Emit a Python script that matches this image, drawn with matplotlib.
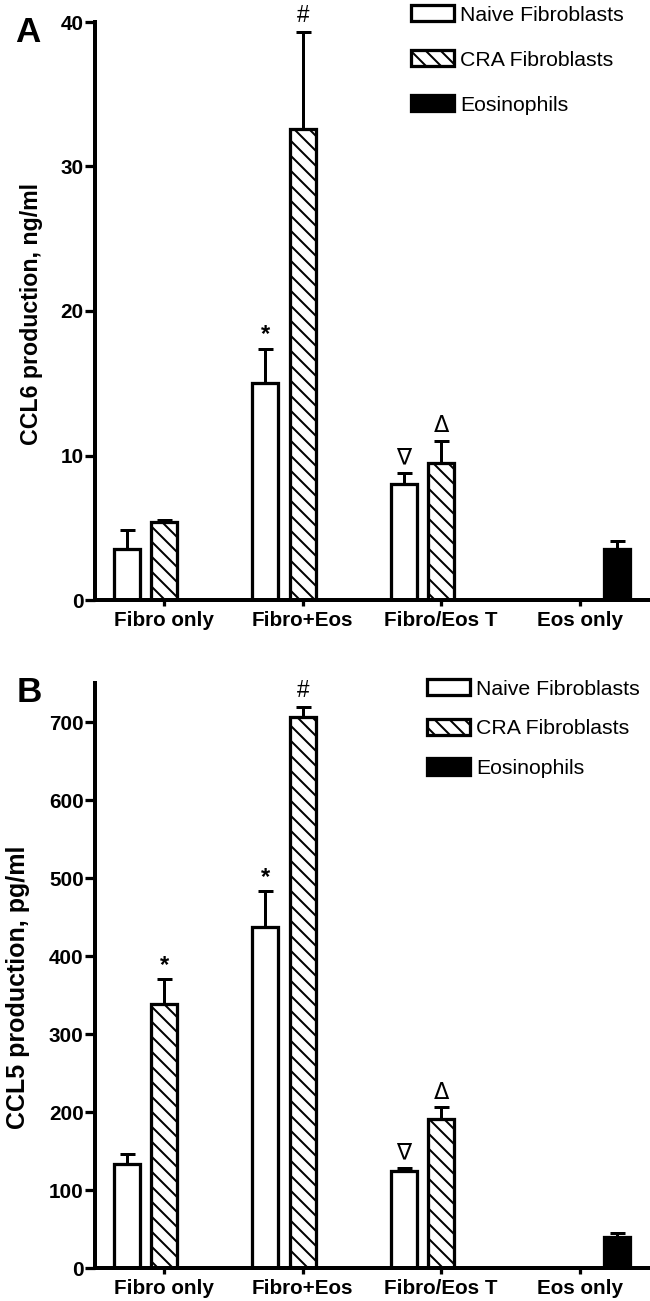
import matplotlib
matplotlib.use('Agg')
import matplotlib.pyplot as plt
import numpy as np

plt.rcParams['font.family'] = ['Liberation Sans', 'DejaVu Sans']
plt.rcParams['hatch.linewidth'] = 1.6

categories = ['Fibro only', 'Fibro+Eos', 'Fibro/Eos T', 'Eos only']

# panel A, CCL6 (ng/ml)
naive_a = [3.55, 15.0, 8.0]
naive_a_err = [1.3, 2.4, 0.8]
cra_a = [5.4, 32.6, 9.5]
cra_a_err = [0.15, 6.7, 1.5]
eos_a = [3.5]
eos_a_err = [0.55]

# panel B, CCL5 (pg/ml)
naive_b = [133, 437, 125]
naive_b_err = [13, 46, 3]
cra_b = [338, 707, 191]
cra_b_err = [32, 12, 15]
eos_b = [40]
eos_b_err = [5]

# significance marks: (series, group, symbol)
marks_a = [('naive', 1, '*'), ('cra', 1, '#'), ('naive', 2, '\u2207'), ('cra', 2, '\u0394')]
marks_b = [('cra', 0, '*'), ('naive', 1, '*'), ('cra', 1, '#'), ('naive', 2, '\u2207'), ('cra', 2, '\u0394')]

x = np.arange(len(categories))
off = 0.271
w = 0.19
lw = 2.6

fig = plt.figure(figsize=(650 / 90, 1301 / 90), dpi=90)
axA = fig.add_axes([95 / 650, 1 - 600 / 1301, 554 / 650, 578 / 1301])
axB = fig.add_axes([95 / 650, 1 - 1268 / 1301, 554 / 650, 585 / 1301])


def draw(ax, naive, naive_err, cra, cra_err, eos, eos_err, marks):
    xn = x[:3] - off
    xc = x[:3]
    xe = x[3:] + off
    b1 = ax.bar(xn, naive, w, color='white', edgecolor='black', linewidth=lw,
                label='Naive Fibroblasts', zorder=2)
    b2 = ax.bar(xc, cra, w, color='white', edgecolor='black', linewidth=lw,
                hatch='\\\\', label='CRA Fibroblasts', zorder=2)
    b3 = ax.bar(xe, eos, w, color='black', edgecolor='black', linewidth=lw,
                label='Eosinophils', zorder=2)
    for xs, vals, errs in [(xn, naive, naive_err), (xc, cra, cra_err), (xe, eos, eos_err)]:
        ax.errorbar(xs, vals, yerr=[np.zeros(len(vals)), errs], fmt='none',
                    ecolor='black', elinewidth=2.4, capsize=6, capthick=2.4, zorder=1)
    tops = {'naive': (xn, np.array(naive) + np.array(naive_err)),
            'cra': (xc, np.array(cra) + np.array(cra_err))}
    for series, g, sym in marks:
        xs, ys = tops[series]
        if sym == '*':
            ax.annotate(sym, (xs[g], ys[g]), xytext=(0, 2), textcoords='offset points',
                        ha='center', va='bottom', fontsize=19, fontweight='bold')
        elif sym == '#':
            ax.annotate(sym, (xs[g], ys[g]), xytext=(0, 4), textcoords='offset points',
                        ha='center', va='bottom', fontsize=18)
        else:
            ax.annotate(sym, (xs[g], ys[g]), xytext=(0, 3), textcoords='offset points',
                        ha='center', va='bottom', fontsize=18, family='DejaVu Sans')

    ax.set_xlim(-0.5, 3.5)
    ax.set_xticks(x)
    ax.set_xticklabels(categories, fontsize=16.5, fontweight='bold')
    ax.spines['top'].set_visible(False)
    ax.spines['right'].set_visible(False)
    ax.spines['left'].set_linewidth(3.2)
    ax.spines['bottom'].set_linewidth(3.2)
    ax.tick_params(axis='y', length=8, width=2.6, labelsize=16.5, pad=1)
    ax.tick_params(axis='x', length=5, width=2.6, pad=4)
    return [b1, b2, b3]


hA = draw(axA, naive_a, naive_a_err, cra_a, cra_a_err, eos_a, eos_a_err, marks_a)
axA.set_ylim(0, 40)
axA.set_yticks([0, 10, 20, 30, 40])
for lab in axA.get_yticklabels():
    lab.set_fontweight('bold')
axA.set_ylabel('CCL6 production, ng/ml', fontsize=18.5, fontweight='bold')
axA.yaxis.set_label_coords(-0.094, 0.495)
axA.legend(handles=hA, loc='upper left', bbox_to_anchor=(411 / 650, 1 - 5 / 1301),
           bbox_transform=fig.transFigure, frameon=False, fontsize=17,
           handlelength=2.0, handleheight=0.8, handletextpad=0.3,
           labelspacing=1.2, borderpad=0, borderaxespad=0)

hB = draw(axB, naive_b, naive_b_err, cra_b, cra_b_err, eos_b, eos_b_err, marks_b)
axB.set_ylim(0, 750)
axB.set_yticks(range(0, 800, 100))
for lab in axB.get_yticklabels():
    lab.set_fontweight('bold')
axB.set_ylabel('CCL5 production, pg/ml', fontsize=20, fontweight='bold')
axB.yaxis.set_label_coords(-0.118, 0.479)
axB.legend(handles=hB, loc='upper left', bbox_to_anchor=(427 / 650, 1 - 679 / 1301),
           bbox_transform=fig.transFigure, frameon=False, fontsize=17,
           handlelength=2.0, handleheight=0.8, handletextpad=0.3,
           labelspacing=0.95, borderpad=0, borderaxespad=0)

fig.text(15 / 650, 1 - 42 / 1301, 'A', fontsize=28, fontweight='bold', ha='left', va='baseline')
fig.text(17 / 650, 1 - 702 / 1301, 'B', fontsize=28, fontweight='bold', ha='left', va='baseline')

fig.savefig('out.png', dpi=90)
